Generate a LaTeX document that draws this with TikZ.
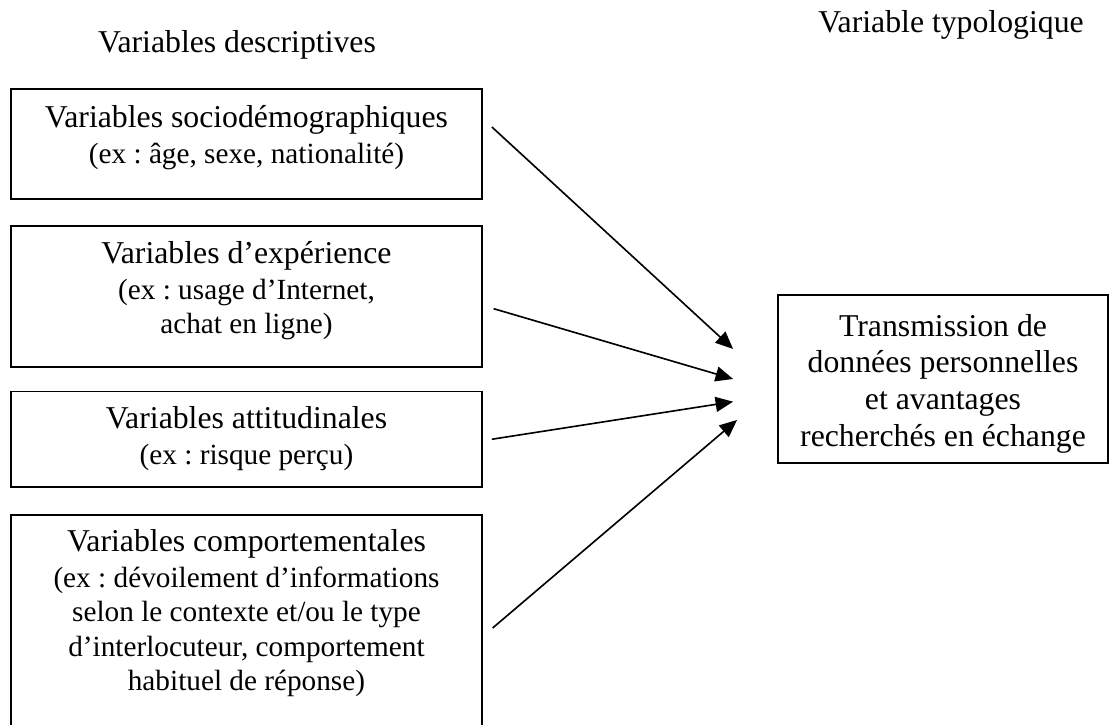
\documentclass[tikz,border=0pt]{standalone}
\usepackage{fontspec}
\setmainfont{Liberation Serif}
\usepackage{tikz}
\usetikzlibrary{arrows.meta}
\frenchspacing

\newcommand{\bigline}[1]{{\fontsize{12.7}{14.4}\selectfont #1}}

\begin{document}
\begin{tikzpicture}[
  varbox/.style={draw, line width=0.75pt, inner sep=0},
  vartext/.style={anchor=north, align=center, inner sep=0, font=\fontsize{11.7}{13.7}\selectfont},
  head/.style={anchor=base, inner sep=0, font=\fontsize{12.7}{14.4}\selectfont},
  link/.style={-{Triangle[length=7pt,width=6pt]}, line width=0.65pt}]

\useasboundingbox (0,0) rectangle (15.6,10.175);

\node[head] (desc) at (3.331,9.444) {Variables descriptives};
\node[head] (typo) at (13.365,9.725) {Variable typologique};

\node[varbox, minimum width=6.62cm, minimum height=1.546cm] (socio) at (3.464,8.151) {};
\node[vartext] (sociotext) at ([yshift=-6.8pt]socio.north) {\bigline{Variables sociodémographiques}\\[0.7pt] (ex : âge, sexe, nationalité)};

\node[varbox, minimum width=6.62cm, minimum height=1.982cm] (exp) at (3.464,6.008) {};
\node[vartext] (exptext) at ([yshift=-6.3pt]exp.north) {\bigline{Variables d’expérience}\\[0.7pt] (ex : usage d’Internet,\\ achat en ligne)};

\node[varbox, minimum width=6.62cm, minimum height=1.342cm] (att) at (3.464,4.002) {};
\node[vartext] (atttext) at ([yshift=-6pt]att.north) {\bigline{Variables attitudinales}\\[0.7pt] (ex : risque perçu)};

\node[varbox, minimum width=6.62cm, minimum height=3.022cm] (comp) at (3.464,1.426) {};
\node[vartext] (comptext) at ([yshift=-6pt]comp.north) {\bigline{Variables comportementales}\\[0.7pt] (ex : dévoilement d’informations\\ selon le contexte et/ou le type\\ d’interlocuteur, comportement\\ habituel de réponse)};

\node[varbox, minimum width=4.638cm, minimum height=2.361cm] (trans) at (13.253,4.849) {};
\node[vartext, font=\fontsize{12.7}{14.7}\selectfont] (transtext) at ([yshift=-7.8pt]trans.north) {Transmission de\\ données personnelles\\ et avantages\\ recherchés en échange};

\draw[link] ([shift={(0.126,0.239)}]socio.east) -- ([shift={(-0.618,0.422)}]trans.west);
\draw[link] ([shift={(0.15,-0.171)}]exp.east) -- ([xshift=-0.618cm]trans.west);
\draw[link] ([xshift=0.126cm]att.east) -- ([shift={(-0.618,-0.319)}]trans.west);
\draw[link] ([shift={(0.136,-0.077)}]comp.east) -- ([shift={(-0.562,-0.576)}]trans.west);

\end{tikzpicture}
\end{document}
